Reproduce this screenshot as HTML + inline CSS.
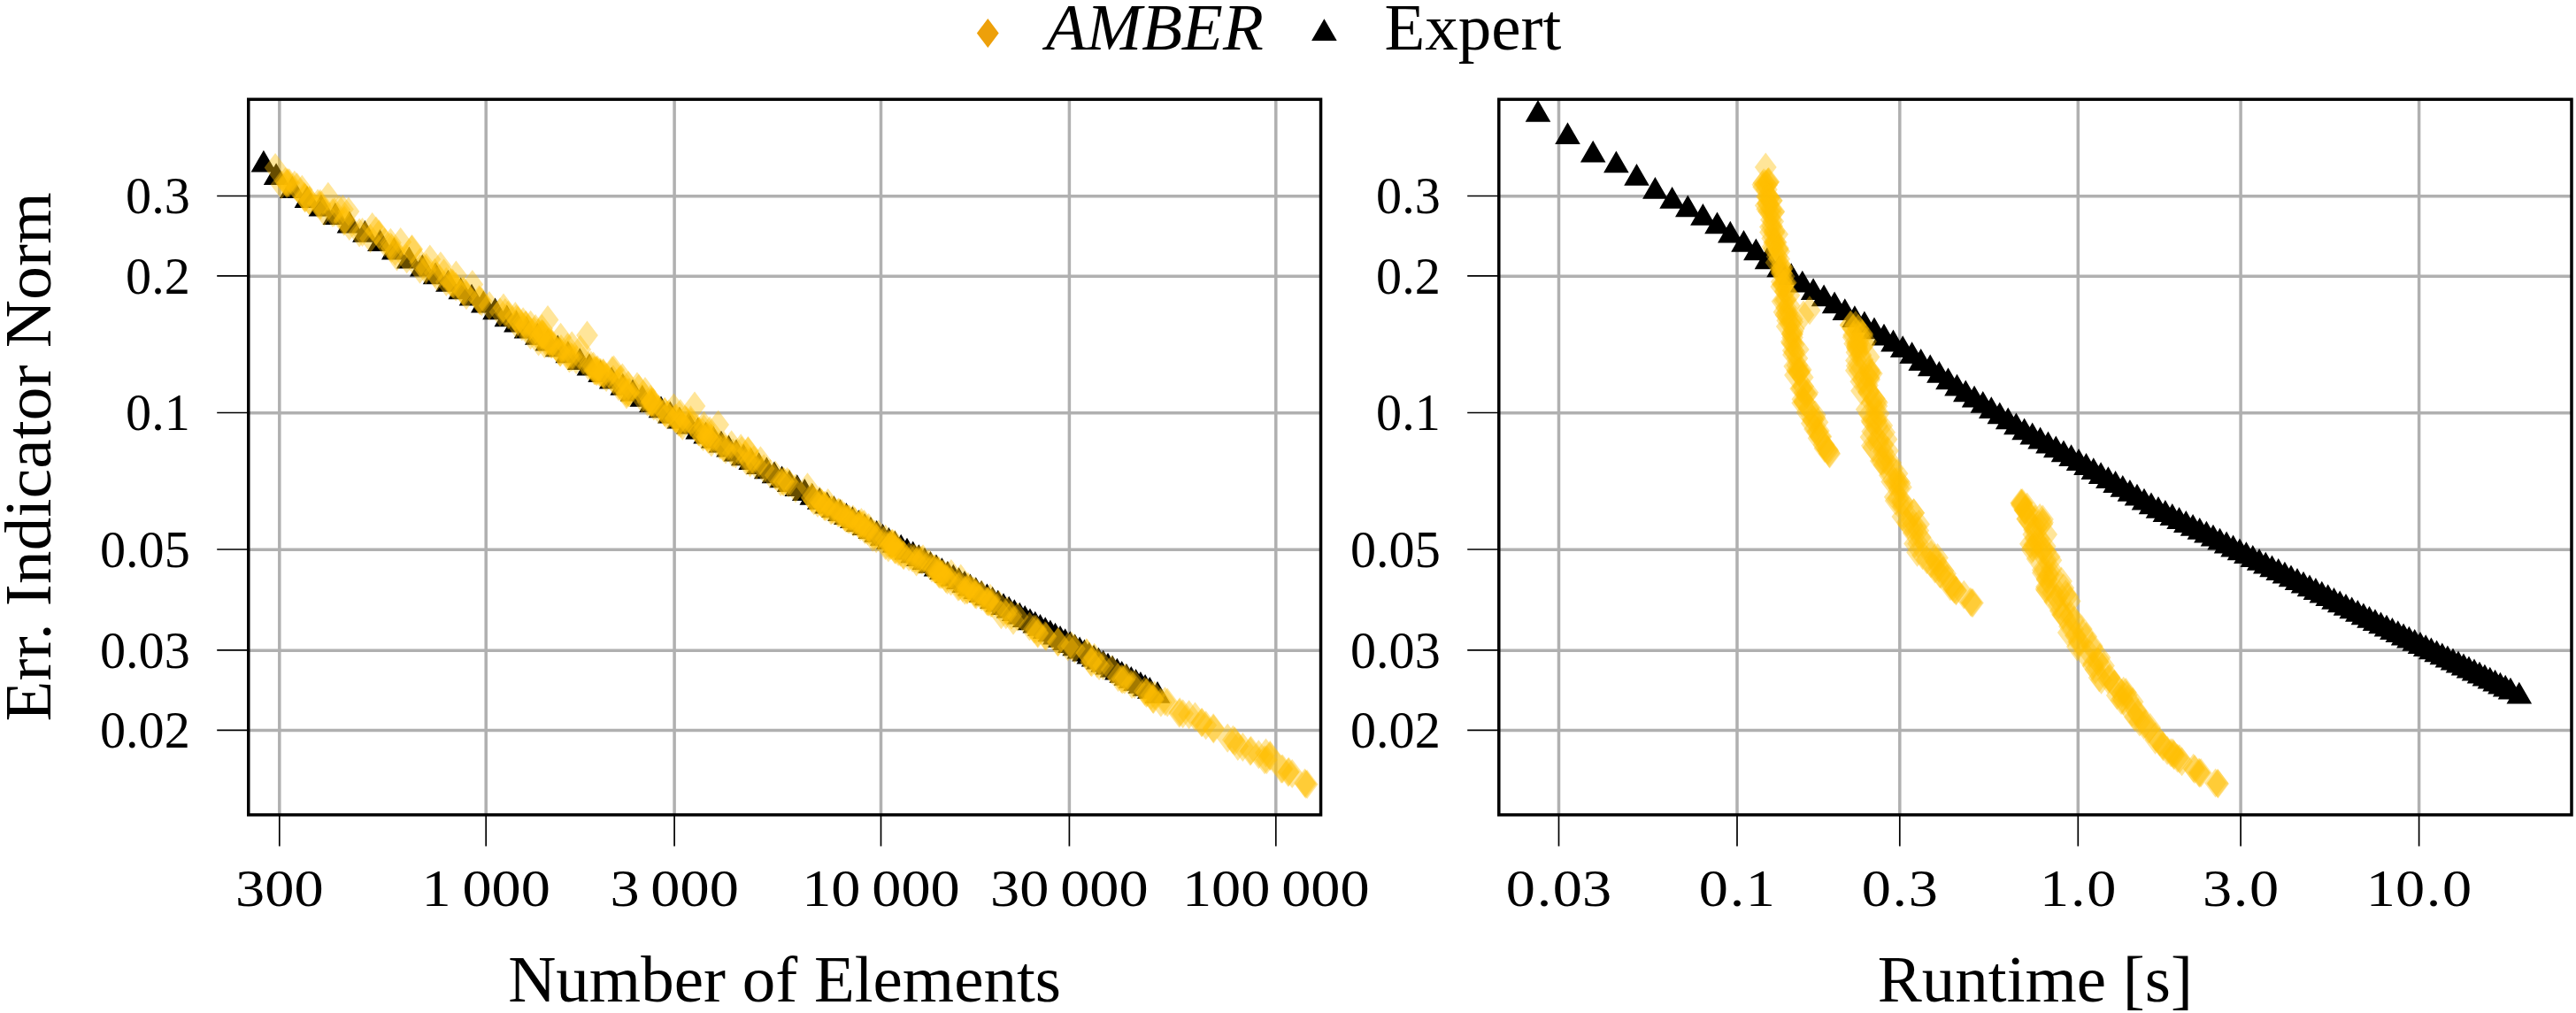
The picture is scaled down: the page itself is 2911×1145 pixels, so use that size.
<!DOCTYPE html><html><head><meta charset="utf-8"><title>AMBER vs Expert</title>
<style>html,body{margin:0;padding:0;background:#fff}svg{display:block}text{font-family:"Liberation Serif",serif;fill:#000}</style></head><body>
<svg width="2911" height="1145" viewBox="0 0 2911 1145">
<rect width="2911" height="1145" fill="#fff"/>
<path d="M315.8 112.3V921.0M549.2 112.3V921.0M762.1 112.3V921.0M995.5 112.3V921.0M1208.4 112.3V921.0M1441.8 112.3V921.0M280.75 221.8H1492.55M280.75 312.2H1492.55M280.75 466.8H1492.55M280.75 621.3H1492.55M280.75 735.2H1492.55M280.75 825.6H1492.55" stroke="#b0b0b0" stroke-width="3.5" fill="none"/>
<path d="M315.8 921.0V956.6M549.2 921.0V956.6M762.1 921.0V956.6M995.5 921.0V956.6M1208.4 921.0V956.6M1441.8 921.0V956.6M280.75 221.5H245.2M280.75 311.9H245.2M280.75 466.5H245.2M280.75 621.0H245.2M280.75 734.9H245.2M280.75 825.3H245.2" stroke="#000" stroke-width="1.7" fill="none"/>
<rect x="280.75" y="112.3" width="1211.80" height="808.70" fill="none" stroke="#000" stroke-width="3.5"/>
<path d="M1761.5 112.3V921.0M1963.0 112.3V921.0M2146.8 112.3V921.0M2348.3 112.3V921.0M2532.1 112.3V921.0M2733.6 112.3V921.0M1693.8 221.8H2906.0M1693.8 312.2H2906.0M1693.8 466.8H2906.0M1693.8 621.3H2906.0M1693.8 735.2H2906.0M1693.8 825.6H2906.0" stroke="#b0b0b0" stroke-width="3.5" fill="none"/>
<path d="M1761.5 921.0V956.6M1963.0 921.0V956.6M2146.8 921.0V956.6M2348.3 921.0V956.6M2532.1 921.0V956.6M2733.6 921.0V956.6M1693.8 221.5H1658.2M1693.8 311.9H1658.2M1693.8 466.5H1658.2M1693.8 621.0H1658.2M1693.8 734.9H1658.2M1693.8 825.3H1658.2" stroke="#000" stroke-width="1.7" fill="none"/>
<rect x="1693.8" y="112.3" width="1212.20" height="808.70" fill="none" stroke="#000" stroke-width="3.5"/>
<path d="M297.9 169.7l14.3 24.8h-28.6zM312.1 184.2l14.3 24.8h-28.6zM330.2 199.1l14.3 24.8h-28.6zM346.9 210.1l14.3 24.8h-28.6zM362.9 219.6l14.3 24.8h-28.6zM378.9 229.1l14.3 24.8h-28.6zM394.9 238.6l14.3 24.8h-28.6zM412.4 249.0l14.3 24.8h-28.6zM429.4 259.1l14.3 24.8h-28.6zM445.3 268.6l14.3 24.8h-28.6zM462.3 278.7l14.3 24.8h-28.6zM477.3 287.6l14.3 24.8h-28.6zM492.1 296.4l14.3 24.8h-28.6zM506.4 304.9l14.3 24.8h-28.6zM520.7 313.4l14.3 24.8h-28.6zM533.0 320.7l14.3 24.8h-28.6zM546.3 328.6l14.3 24.8h-28.6zM559.5 336.5l14.3 24.8h-28.6zM572.8 344.4l14.3 24.8h-28.6zM583.4 350.7l14.3 24.8h-28.6zM595.0 357.6l14.3 24.8h-28.6zM607.3 364.9l14.3 24.8h-28.6zM618.9 371.8l14.3 24.8h-28.6zM630.2 378.5l14.3 24.8h-28.6zM641.8 385.4l14.3 24.8h-28.6zM655.2 393.3l14.3 24.8h-28.6zM665.9 399.6l14.3 24.8h-28.6zM678.6 407.1l14.3 24.8h-28.6zM691.2 414.6l14.3 24.8h-28.6zM703.7 421.9l14.3 24.8h-28.6zM715.0 428.6l14.3 24.8h-28.6zM725.8 434.9l14.3 24.8h-28.6zM736.4 441.2l14.3 24.8h-28.6zM747.0 447.4l14.3 24.8h-28.6zM757.4 453.6l14.3 24.8h-28.6zM767.9 459.7l14.3 24.8h-28.6zM778.3 465.7l14.3 24.8h-28.6zM788.7 471.7l14.3 24.8h-28.6zM797.6 476.8l14.3 24.8h-28.6zM806.3 481.8l14.3 24.8h-28.6zM815.0 486.8l14.3 24.8h-28.6zM823.5 491.7l14.3 24.8h-28.6zM832.0 496.6l14.3 24.8h-28.6zM840.3 501.4l14.3 24.8h-28.6zM848.7 506.3l14.3 24.8h-28.6zM857.5 511.3l14.3 24.8h-28.6zM866.3 516.4l14.3 24.8h-28.6zM875.0 521.4l14.3 24.8h-28.6zM883.6 526.4l14.3 24.8h-28.6zM892.2 531.3l14.3 24.8h-28.6zM900.8 536.2l14.3 24.8h-28.6zM909.3 541.1l14.3 24.8h-28.6zM917.8 546.0l14.3 24.8h-28.6zM926.2 550.9l14.3 24.8h-28.6zM934.6 555.7l14.3 24.8h-28.6zM942.4 560.2l14.3 24.8h-28.6zM949.5 564.3l14.3 24.8h-28.6zM956.4 568.3l14.3 24.8h-28.6zM963.4 572.3l14.3 24.8h-28.6zM970.3 576.3l14.3 24.8h-28.6zM977.1 580.2l14.3 24.8h-28.6zM983.9 584.1l14.3 24.8h-28.6zM990.7 588.0l14.3 24.8h-28.6zM997.5 591.9l14.3 24.8h-28.6zM1004.4 595.9l14.3 24.8h-28.6zM1011.3 599.8l14.3 24.8h-28.6zM1018.2 603.8l14.3 24.8h-28.6zM1025.0 607.7l14.3 24.8h-28.6zM1031.7 611.5l14.3 24.8h-28.6zM1038.3 615.3l14.3 24.8h-28.6zM1044.9 619.1l14.3 24.8h-28.6zM1051.5 622.9l14.3 24.8h-28.6zM1058.0 626.6l14.3 24.8h-28.6zM1064.4 630.3l14.3 24.8h-28.6zM1070.9 634.0l14.3 24.8h-28.6zM1077.3 637.7l14.3 24.8h-28.6zM1083.6 641.3l14.3 24.8h-28.6zM1090.0 645.0l14.3 24.8h-28.6zM1096.4 648.6l14.3 24.8h-28.6zM1102.8 652.3l14.3 24.8h-28.6zM1109.1 655.9l14.3 24.8h-28.6zM1115.4 659.5l14.3 24.8h-28.6zM1121.6 663.1l14.3 24.8h-28.6zM1127.8 666.7l14.3 24.8h-28.6zM1134.0 670.2l14.3 24.8h-28.6zM1140.2 673.7l14.3 24.8h-28.6zM1146.3 677.2l14.3 24.8h-28.6zM1152.3 680.7l14.3 24.8h-28.6zM1158.2 684.1l14.3 24.8h-28.6zM1164.0 687.4l14.3 24.8h-28.6zM1169.8 690.7l14.3 24.8h-28.6zM1175.5 694.0l14.3 24.8h-28.6zM1181.2 697.3l14.3 24.8h-28.6zM1186.9 700.5l14.3 24.8h-28.6zM1192.5 703.8l14.3 24.8h-28.6zM1198.1 707.0l14.3 24.8h-28.6zM1203.7 710.2l14.3 24.8h-28.6zM1209.3 713.3l14.3 24.8h-28.6zM1214.7 716.5l14.3 24.8h-28.6zM1220.1 719.6l14.3 24.8h-28.6zM1225.5 722.6l14.3 24.8h-28.6zM1230.8 725.7l14.3 24.8h-28.6zM1236.1 728.8l14.3 24.8h-28.6zM1241.4 731.8l14.3 24.8h-28.6zM1246.7 734.8l14.3 24.8h-28.6zM1252.0 737.8l14.3 24.8h-28.6zM1257.2 740.8l14.3 24.8h-28.6zM1262.4 743.8l14.3 24.8h-28.6zM1267.7 746.9l14.3 24.8h-28.6zM1273.0 749.9l14.3 24.8h-28.6zM1278.3 753.0l14.3 24.8h-28.6zM1283.6 756.0l14.3 24.8h-28.6zM1288.9 759.0l14.3 24.8h-28.6zM1294.1 762.0l14.3 24.8h-28.6zM1299.3 765.0l14.3 24.8h-28.6zM1308.0 770.0l14.3 24.8h-28.6z" fill="#000"/>
<g fill="#ffbf00" fill-opacity="0.4">
<path d="M325.0 190.0l12.4 16.5-12.4 16.5-12.4-16.5z"/><path d="M323.6 189.3l12.4 16.5-12.4 16.5-12.4-16.5z"/><path d="M326.8 190.2l12.4 16.5-12.4 16.5-12.4-16.5z"/><path d="M322.5 189.1l12.4 16.5-12.4 16.5-12.4-16.5z"/><path d="M318.0 192.2l12.4 16.5-12.4 16.5-12.4-16.5z"/><path d="M324.2 191.2l12.4 16.5-12.4 16.5-12.4-16.5z"/><path d="M335.6 195.0l12.4 16.5-12.4 16.5-12.4-16.5z"/><path d="M341.3 197.8l12.4 16.5-12.4 16.5-12.4-16.5z"/><path d="M332.8 192.8l12.4 16.5-12.4 16.5-12.4-16.5z"/><path d="M343.8 205.7l12.4 16.5-12.4 16.5-12.4-16.5z"/><path d="M344.7 207.4l12.4 16.5-12.4 16.5-12.4-16.5z"/><path d="M370.8 205.8l12.4 16.5-12.4 16.5-12.4-16.5z"/><path d="M349.8 210.2l12.4 16.5-12.4 16.5-12.4-16.5z"/><path d="M349.4 210.3l12.4 16.5-12.4 16.5-12.4-16.5z"/><path d="M344.8 207.0l12.4 16.5-12.4 16.5-12.4-16.5z"/><path d="M359.1 213.4l12.4 16.5-12.4 16.5-12.4-16.5z"/><path d="M361.8 213.8l12.4 16.5-12.4 16.5-12.4-16.5z"/><path d="M362.0 215.8l12.4 16.5-12.4 16.5-12.4-16.5z"/><path d="M383.7 220.6l12.4 16.5-12.4 16.5-12.4-16.5z"/><path d="M393.9 222.4l12.4 16.5-12.4 16.5-12.4-16.5z"/><path d="M387.4 219.9l12.4 16.5-12.4 16.5-12.4-16.5z"/><path d="M366.2 222.5l12.4 16.5-12.4 16.5-12.4-16.5z"/><path d="M377.9 223.2l12.4 16.5-12.4 16.5-12.4-16.5z"/><path d="M375.9 223.9l12.4 16.5-12.4 16.5-12.4-16.5z"/><path d="M394.8 239.1l12.4 16.5-12.4 16.5-12.4-16.5z"/><path d="M389.2 232.0l12.4 16.5-12.4 16.5-12.4-16.5z"/><path d="M388.7 233.7l12.4 16.5-12.4 16.5-12.4-16.5z"/><path d="M420.7 240.0l12.4 16.5-12.4 16.5-12.4-16.5z"/><path d="M406.1 246.6l12.4 16.5-12.4 16.5-12.4-16.5z"/><path d="M425.0 244.6l12.4 16.5-12.4 16.5-12.4-16.5z"/><path d="M409.5 245.9l12.4 16.5-12.4 16.5-12.4-16.5z"/><path d="M428.3 248.2l12.4 16.5-12.4 16.5-12.4-16.5z"/><path d="M418.5 253.1l12.4 16.5-12.4 16.5-12.4-16.5z"/><path d="M441.4 257.8l12.4 16.5-12.4 16.5-12.4-16.5z"/><path d="M452.7 256.9l12.4 16.5-12.4 16.5-12.4-16.5z"/><path d="M442.6 263.9l12.4 16.5-12.4 16.5-12.4-16.5z"/><path d="M465.6 264.9l12.4 16.5-12.4 16.5-12.4-16.5z"/><path d="M441.1 262.5l12.4 16.5-12.4 16.5-12.4-16.5z"/><path d="M434.7 257.5l12.4 16.5-12.4 16.5-12.4-16.5z"/><path d="M446.6 267.5l12.4 16.5-12.4 16.5-12.4-16.5z"/><path d="M459.7 276.2l12.4 16.5-12.4 16.5-12.4-16.5z"/><path d="M465.2 265.8l12.4 16.5-12.4 16.5-12.4-16.5z"/><path d="M448.5 273.6l12.4 16.5-12.4 16.5-12.4-16.5z"/><path d="M497.9 284.2l12.4 16.5-12.4 16.5-12.4-16.5z"/><path d="M474.5 280.3l12.4 16.5-12.4 16.5-12.4-16.5z"/><path d="M474.5 287.7l12.4 16.5-12.4 16.5-12.4-16.5z"/><path d="M481.7 286.1l12.4 16.5-12.4 16.5-12.4-16.5z"/><path d="M481.2 288.5l12.4 16.5-12.4 16.5-12.4-16.5z"/><path d="M501.6 292.6l12.4 16.5-12.4 16.5-12.4-16.5z"/><path d="M491.3 291.7l12.4 16.5-12.4 16.5-12.4-16.5z"/><path d="M493.8 296.1l12.4 16.5-12.4 16.5-12.4-16.5z"/><path d="M533.8 305.0l12.4 16.5-12.4 16.5-12.4-16.5z"/><path d="M504.3 302.0l12.4 16.5-12.4 16.5-12.4-16.5z"/><path d="M509.3 303.1l12.4 16.5-12.4 16.5-12.4-16.5z"/><path d="M511.3 303.4l12.4 16.5-12.4 16.5-12.4-16.5z"/><path d="M512.0 305.0l12.4 16.5-12.4 16.5-12.4-16.5z"/><path d="M515.1 307.4l12.4 16.5-12.4 16.5-12.4-16.5z"/><path d="M524.7 313.2l12.4 16.5-12.4 16.5-12.4-16.5z"/><path d="M527.0 317.3l12.4 16.5-12.4 16.5-12.4-16.5z"/><path d="M523.0 312.5l12.4 16.5-12.4 16.5-12.4-16.5z"/><path d="M542.3 323.3l12.4 16.5-12.4 16.5-12.4-16.5z"/><path d="M541.4 322.3l12.4 16.5-12.4 16.5-12.4-16.5z"/><path d="M544.2 324.2l12.4 16.5-12.4 16.5-12.4-16.5z"/><path d="M569.0 331.5l12.4 16.5-12.4 16.5-12.4-16.5z"/><path d="M565.0 336.2l12.4 16.5-12.4 16.5-12.4-16.5z"/><path d="M552.9 328.9l12.4 16.5-12.4 16.5-12.4-16.5z"/><path d="M574.3 339.5l12.4 16.5-12.4 16.5-12.4-16.5z"/><path d="M570.8 337.0l12.4 16.5-12.4 16.5-12.4-16.5z"/><path d="M583.6 343.9l12.4 16.5-12.4 16.5-12.4-16.5z"/><path d="M591.1 347.3l12.4 16.5-12.4 16.5-12.4-16.5z"/><path d="M582.3 341.0l12.4 16.5-12.4 16.5-12.4-16.5z"/><path d="M585.2 345.8l12.4 16.5-12.4 16.5-12.4-16.5z"/><path d="M583.4 349.2l12.4 16.5-12.4 16.5-12.4-16.5z"/><path d="M596.1 355.2l12.4 16.5-12.4 16.5-12.4-16.5z"/><path d="M589.8 352.6l12.4 16.5-12.4 16.5-12.4-16.5z"/><path d="M603.1 358.5l12.4 16.5-12.4 16.5-12.4-16.5z"/><path d="M612.7 361.5l12.4 16.5-12.4 16.5-12.4-16.5z"/><path d="M612.2 360.8l12.4 16.5-12.4 16.5-12.4-16.5z"/><path d="M620.6 369.7l12.4 16.5-12.4 16.5-12.4-16.5z"/><path d="M623.5 371.5l12.4 16.5-12.4 16.5-12.4-16.5z"/><path d="M609.1 365.0l12.4 16.5-12.4 16.5-12.4-16.5z"/><path d="M631.7 379.8l12.4 16.5-12.4 16.5-12.4-16.5z"/><path d="M623.5 372.5l12.4 16.5-12.4 16.5-12.4-16.5z"/><path d="M655.7 378.5l12.4 16.5-12.4 16.5-12.4-16.5z"/><path d="M633.3 381.5l12.4 16.5-12.4 16.5-12.4-16.5z"/><path d="M643.1 384.4l12.4 16.5-12.4 16.5-12.4-16.5z"/><path d="M643.4 388.6l12.4 16.5-12.4 16.5-12.4-16.5z"/><path d="M667.9 396.4l12.4 16.5-12.4 16.5-12.4-16.5z"/><path d="M670.6 397.4l12.4 16.5-12.4 16.5-12.4-16.5z"/><path d="M675.1 401.5l12.4 16.5-12.4 16.5-12.4-16.5z"/><path d="M672.5 402.6l12.4 16.5-12.4 16.5-12.4-16.5z"/><path d="M671.5 402.3l12.4 16.5-12.4 16.5-12.4-16.5z"/><path d="M674.5 403.5l12.4 16.5-12.4 16.5-12.4-16.5z"/><path d="M677.9 404.8l12.4 16.5-12.4 16.5-12.4-16.5z"/><path d="M685.1 409.9l12.4 16.5-12.4 16.5-12.4-16.5z"/><path d="M682.3 407.4l12.4 16.5-12.4 16.5-12.4-16.5z"/><path d="M703.1 422.5l12.4 16.5-12.4 16.5-12.4-16.5z"/><path d="M699.0 420.3l12.4 16.5-12.4 16.5-12.4-16.5z"/><path d="M721.9 422.7l12.4 16.5-12.4 16.5-12.4-16.5z"/><path d="M708.0 429.5l12.4 16.5-12.4 16.5-12.4-16.5z"/><path d="M711.2 427.3l12.4 16.5-12.4 16.5-12.4-16.5z"/><path d="M708.2 427.6l12.4 16.5-12.4 16.5-12.4-16.5z"/><path d="M735.2 434.8l12.4 16.5-12.4 16.5-12.4-16.5z"/><path d="M736.1 438.3l12.4 16.5-12.4 16.5-12.4-16.5z"/><path d="M734.9 438.9l12.4 16.5-12.4 16.5-12.4-16.5z"/><path d="M731.7 437.7l12.4 16.5-12.4 16.5-12.4-16.5z"/><path d="M761.4 444.4l12.4 16.5-12.4 16.5-12.4-16.5z"/><path d="M751.1 449.6l12.4 16.5-12.4 16.5-12.4-16.5z"/><path d="M763.6 455.7l12.4 16.5-12.4 16.5-12.4-16.5z"/><path d="M763.0 457.0l12.4 16.5-12.4 16.5-12.4-16.5z"/><path d="M753.7 452.4l12.4 16.5-12.4 16.5-12.4-16.5z"/><path d="M780.5 458.2l12.4 16.5-12.4 16.5-12.4-16.5z"/><path d="M769.4 462.1l12.4 16.5-12.4 16.5-12.4-16.5z"/><path d="M766.8 460.7l12.4 16.5-12.4 16.5-12.4-16.5z"/><path d="M795.4 468.4l12.4 16.5-12.4 16.5-12.4-16.5z"/><path d="M802.1 470.4l12.4 16.5-12.4 16.5-12.4-16.5z"/><path d="M789.9 471.6l12.4 16.5-12.4 16.5-12.4-16.5z"/><path d="M803.5 478.8l12.4 16.5-12.4 16.5-12.4-16.5z"/><path d="M799.1 477.1l12.4 16.5-12.4 16.5-12.4-16.5z"/><path d="M794.6 477.1l12.4 16.5-12.4 16.5-12.4-16.5z"/><path d="M837.2 490.2l12.4 16.5-12.4 16.5-12.4-16.5z"/><path d="M826.6 486.2l12.4 16.5-12.4 16.5-12.4-16.5z"/><path d="M838.1 493.1l12.4 16.5-12.4 16.5-12.4-16.5z"/><path d="M831.3 496.5l12.4 16.5-12.4 16.5-12.4-16.5z"/><path d="M820.0 491.4l12.4 16.5-12.4 16.5-12.4-16.5z"/><path d="M828.4 495.5l12.4 16.5-12.4 16.5-12.4-16.5z"/><path d="M594.5 350.9l12.4 16.5-12.4 16.5-12.4-16.5z"/><path d="M593.8 351.0l12.4 16.5-12.4 16.5-12.4-16.5z"/><path d="M599.6 350.8l12.4 16.5-12.4 16.5-12.4-16.5z"/><path d="M612.8 361.1l12.4 16.5-12.4 16.5-12.4-16.5z"/><path d="M605.1 355.0l12.4 16.5-12.4 16.5-12.4-16.5z"/><path d="M612.4 354.9l12.4 16.5-12.4 16.5-12.4-16.5z"/><path d="M614.3 362.3l12.4 16.5-12.4 16.5-12.4-16.5z"/><path d="M608.5 360.6l12.4 16.5-12.4 16.5-12.4-16.5z"/><path d="M633.6 364.7l12.4 16.5-12.4 16.5-12.4-16.5z"/><path d="M617.6 370.7l12.4 16.5-12.4 16.5-12.4-16.5z"/><path d="M599.5 362.2l12.4 16.5-12.4 16.5-12.4-16.5z"/><path d="M608.6 369.4l12.4 16.5-12.4 16.5-12.4-16.5z"/><path d="M622.5 372.3l12.4 16.5-12.4 16.5-12.4-16.5z"/><path d="M620.0 372.1l12.4 16.5-12.4 16.5-12.4-16.5z"/><path d="M615.4 372.3l12.4 16.5-12.4 16.5-12.4-16.5z"/><path d="M646.2 374.3l12.4 16.5-12.4 16.5-12.4-16.5z"/><path d="M634.0 378.1l12.4 16.5-12.4 16.5-12.4-16.5z"/><path d="M641.4 376.2l12.4 16.5-12.4 16.5-12.4-16.5z"/><path d="M646.2 386.9l12.4 16.5-12.4 16.5-12.4-16.5z"/><path d="M632.9 381.7l12.4 16.5-12.4 16.5-12.4-16.5z"/><path d="M641.6 385.0l12.4 16.5-12.4 16.5-12.4-16.5z"/><path d="M651.1 390.1l12.4 16.5-12.4 16.5-12.4-16.5z"/><path d="M665.0 397.1l12.4 16.5-12.4 16.5-12.4-16.5z"/><path d="M658.8 391.0l12.4 16.5-12.4 16.5-12.4-16.5z"/><path d="M691.9 402.3l12.4 16.5-12.4 16.5-12.4-16.5z"/><path d="M673.8 402.6l12.4 16.5-12.4 16.5-12.4-16.5z"/><path d="M681.7 404.9l12.4 16.5-12.4 16.5-12.4-16.5z"/><path d="M681.6 405.7l12.4 16.5-12.4 16.5-12.4-16.5z"/><path d="M678.9 404.7l12.4 16.5-12.4 16.5-12.4-16.5z"/><path d="M693.6 401.4l12.4 16.5-12.4 16.5-12.4-16.5z"/><path d="M720.0 420.6l12.4 16.5-12.4 16.5-12.4-16.5z"/><path d="M703.3 410.6l12.4 16.5-12.4 16.5-12.4-16.5z"/><path d="M701.0 412.5l12.4 16.5-12.4 16.5-12.4-16.5z"/><path d="M710.0 418.9l12.4 16.5-12.4 16.5-12.4-16.5z"/><path d="M699.1 414.7l12.4 16.5-12.4 16.5-12.4-16.5z"/><path d="M692.9 412.6l12.4 16.5-12.4 16.5-12.4-16.5z"/><path d="M729.0 426.1l12.4 16.5-12.4 16.5-12.4-16.5z"/><path d="M706.3 425.2l12.4 16.5-12.4 16.5-12.4-16.5z"/><path d="M710.2 427.3l12.4 16.5-12.4 16.5-12.4-16.5z"/><path d="M736.6 438.6l12.4 16.5-12.4 16.5-12.4-16.5z"/><path d="M725.6 434.0l12.4 16.5-12.4 16.5-12.4-16.5z"/><path d="M736.3 437.0l12.4 16.5-12.4 16.5-12.4-16.5z"/><path d="M744.6 446.2l12.4 16.5-12.4 16.5-12.4-16.5z"/><path d="M738.8 442.4l12.4 16.5-12.4 16.5-12.4-16.5z"/><path d="M738.1 438.4l12.4 16.5-12.4 16.5-12.4-16.5z"/><path d="M768.8 450.9l12.4 16.5-12.4 16.5-12.4-16.5z"/><path d="M755.8 451.5l12.4 16.5-12.4 16.5-12.4-16.5z"/><path d="M751.2 448.8l12.4 16.5-12.4 16.5-12.4-16.5z"/><path d="M780.8 460.7l12.4 16.5-12.4 16.5-12.4-16.5z"/><path d="M774.1 458.0l12.4 16.5-12.4 16.5-12.4-16.5z"/><path d="M775.8 458.9l12.4 16.5-12.4 16.5-12.4-16.5z"/><path d="M768.2 459.6l12.4 16.5-12.4 16.5-12.4-16.5z"/><path d="M771.2 464.8l12.4 16.5-12.4 16.5-12.4-16.5z"/><path d="M795.5 464.5l12.4 16.5-12.4 16.5-12.4-16.5z"/><path d="M794.0 472.2l12.4 16.5-12.4 16.5-12.4-16.5z"/><path d="M789.2 471.3l12.4 16.5-12.4 16.5-12.4-16.5z"/><path d="M804.7 479.7l12.4 16.5-12.4 16.5-12.4-16.5z"/><path d="M800.3 480.0l12.4 16.5-12.4 16.5-12.4-16.5z"/><path d="M799.2 477.4l12.4 16.5-12.4 16.5-12.4-16.5z"/><path d="M803.9 483.5l12.4 16.5-12.4 16.5-12.4-16.5z"/><path d="M818.1 487.3l12.4 16.5-12.4 16.5-12.4-16.5z"/><path d="M813.6 486.8l12.4 16.5-12.4 16.5-12.4-16.5z"/><path d="M817.6 489.5l12.4 16.5-12.4 16.5-12.4-16.5z"/><path d="M845.4 493.8l12.4 16.5-12.4 16.5-12.4-16.5z"/><path d="M851.7 503.5l12.4 16.5-12.4 16.5-12.4-16.5z"/><path d="M845.3 493.0l12.4 16.5-12.4 16.5-12.4-16.5z"/><path d="M859.4 504.2l12.4 16.5-12.4 16.5-12.4-16.5z"/><path d="M847.6 506.6l12.4 16.5-12.4 16.5-12.4-16.5z"/><path d="M847.8 504.6l12.4 16.5-12.4 16.5-12.4-16.5z"/><path d="M854.8 509.3l12.4 16.5-12.4 16.5-12.4-16.5z"/><path d="M843.5 504.5l12.4 16.5-12.4 16.5-12.4-16.5z"/><path d="M863.2 513.2l12.4 16.5-12.4 16.5-12.4-16.5z"/><path d="M889.5 527.9l12.4 16.5-12.4 16.5-12.4-16.5z"/><path d="M870.4 518.7l12.4 16.5-12.4 16.5-12.4-16.5z"/><path d="M876.2 520.8l12.4 16.5-12.4 16.5-12.4-16.5z"/><path d="M885.9 527.9l12.4 16.5-12.4 16.5-12.4-16.5z"/><path d="M891.2 529.5l12.4 16.5-12.4 16.5-12.4-16.5z"/><path d="M884.8 527.6l12.4 16.5-12.4 16.5-12.4-16.5z"/><path d="M912.5 534.3l12.4 16.5-12.4 16.5-12.4-16.5z"/><path d="M882.2 528.0l12.4 16.5-12.4 16.5-12.4-16.5z"/><path d="M899.0 535.5l12.4 16.5-12.4 16.5-12.4-16.5z"/><path d="M917.6 546.4l12.4 16.5-12.4 16.5-12.4-16.5z"/><path d="M916.8 545.3l12.4 16.5-12.4 16.5-12.4-16.5z"/><path d="M925.9 549.5l12.4 16.5-12.4 16.5-12.4-16.5z"/><path d="M931.5 555.9l12.4 16.5-12.4 16.5-12.4-16.5z"/><path d="M927.5 551.5l12.4 16.5-12.4 16.5-12.4-16.5z"/><path d="M919.8 549.5l12.4 16.5-12.4 16.5-12.4-16.5z"/><path d="M949.0 563.2l12.4 16.5-12.4 16.5-12.4-16.5z"/><path d="M946.9 563.3l12.4 16.5-12.4 16.5-12.4-16.5z"/><path d="M951.1 564.0l12.4 16.5-12.4 16.5-12.4-16.5z"/><path d="M964.3 573.7l12.4 16.5-12.4 16.5-12.4-16.5z"/><path d="M954.3 567.6l12.4 16.5-12.4 16.5-12.4-16.5z"/><path d="M971.6 576.6l12.4 16.5-12.4 16.5-12.4-16.5z"/><path d="M971.6 576.1l12.4 16.5-12.4 16.5-12.4-16.5z"/><path d="M972.1 578.5l12.4 16.5-12.4 16.5-12.4-16.5z"/><path d="M974.2 577.4l12.4 16.5-12.4 16.5-12.4-16.5z"/><path d="M985.4 586.0l12.4 16.5-12.4 16.5-12.4-16.5z"/><path d="M986.2 590.8l12.4 16.5-12.4 16.5-12.4-16.5z"/><path d="M980.3 583.3l12.4 16.5-12.4 16.5-12.4-16.5z"/><path d="M1008.1 597.9l12.4 16.5-12.4 16.5-12.4-16.5z"/><path d="M1008.7 598.1l12.4 16.5-12.4 16.5-12.4-16.5z"/><path d="M1011.2 598.7l12.4 16.5-12.4 16.5-12.4-16.5z"/><path d="M1017.4 607.7l12.4 16.5-12.4 16.5-12.4-16.5z"/><path d="M1020.6 610.5l12.4 16.5-12.4 16.5-12.4-16.5z"/><path d="M1021.4 611.2l12.4 16.5-12.4 16.5-12.4-16.5z"/><path d="M1049.6 620.6l12.4 16.5-12.4 16.5-12.4-16.5z"/><path d="M1039.6 616.2l12.4 16.5-12.4 16.5-12.4-16.5z"/><path d="M1033.9 614.5l12.4 16.5-12.4 16.5-12.4-16.5z"/><path d="M1031.0 613.9l12.4 16.5-12.4 16.5-12.4-16.5z"/><path d="M1053.0 625.5l12.4 16.5-12.4 16.5-12.4-16.5z"/><path d="M1035.6 618.5l12.4 16.5-12.4 16.5-12.4-16.5z"/><path d="M1056.4 626.4l12.4 16.5-12.4 16.5-12.4-16.5z"/><path d="M1064.6 632.4l12.4 16.5-12.4 16.5-12.4-16.5z"/><path d="M1061.0 628.8l12.4 16.5-12.4 16.5-12.4-16.5z"/><path d="M1074.9 632.0l12.4 16.5-12.4 16.5-12.4-16.5z"/><path d="M1066.0 631.9l12.4 16.5-12.4 16.5-12.4-16.5z"/><path d="M1085.7 637.5l12.4 16.5-12.4 16.5-12.4-16.5z"/><path d="M1084.0 646.2l12.4 16.5-12.4 16.5-12.4-16.5z"/><path d="M1094.1 646.8l12.4 16.5-12.4 16.5-12.4-16.5z"/><path d="M1093.4 649.6l12.4 16.5-12.4 16.5-12.4-16.5z"/><path d="M1092.8 650.4l12.4 16.5-12.4 16.5-12.4-16.5z"/><path d="M1100.5 651.6l12.4 16.5-12.4 16.5-12.4-16.5z"/><path d="M1103.3 655.8l12.4 16.5-12.4 16.5-12.4-16.5z"/><path d="M1121.0 665.0l12.4 16.5-12.4 16.5-12.4-16.5z"/><path d="M1117.3 663.7l12.4 16.5-12.4 16.5-12.4-16.5z"/><path d="M1119.7 665.0l12.4 16.5-12.4 16.5-12.4-16.5z"/><path d="M932.0 554.5l12.4 16.5-12.4 16.5-12.4-16.5z"/><path d="M935.6 551.9l12.4 16.5-12.4 16.5-12.4-16.5z"/><path d="M928.6 552.4l12.4 16.5-12.4 16.5-12.4-16.5z"/><path d="M939.1 560.4l12.4 16.5-12.4 16.5-12.4-16.5z"/><path d="M924.0 551.9l12.4 16.5-12.4 16.5-12.4-16.5z"/><path d="M933.2 556.6l12.4 16.5-12.4 16.5-12.4-16.5z"/><path d="M942.5 560.6l12.4 16.5-12.4 16.5-12.4-16.5z"/><path d="M958.9 570.3l12.4 16.5-12.4 16.5-12.4-16.5z"/><path d="M940.0 559.6l12.4 16.5-12.4 16.5-12.4-16.5z"/><path d="M947.7 562.5l12.4 16.5-12.4 16.5-12.4-16.5z"/><path d="M963.9 570.6l12.4 16.5-12.4 16.5-12.4-16.5z"/><path d="M957.3 569.7l12.4 16.5-12.4 16.5-12.4-16.5z"/><path d="M955.7 568.9l12.4 16.5-12.4 16.5-12.4-16.5z"/><path d="M966.0 572.9l12.4 16.5-12.4 16.5-12.4-16.5z"/><path d="M959.8 570.4l12.4 16.5-12.4 16.5-12.4-16.5z"/><path d="M973.4 574.1l12.4 16.5-12.4 16.5-12.4-16.5z"/><path d="M976.6 576.1l12.4 16.5-12.4 16.5-12.4-16.5z"/><path d="M981.6 580.1l12.4 16.5-12.4 16.5-12.4-16.5z"/><path d="M977.6 582.6l12.4 16.5-12.4 16.5-12.4-16.5z"/><path d="M992.8 587.6l12.4 16.5-12.4 16.5-12.4-16.5z"/><path d="M988.9 587.6l12.4 16.5-12.4 16.5-12.4-16.5z"/><path d="M1000.6 592.8l12.4 16.5-12.4 16.5-12.4-16.5z"/><path d="M1007.0 598.3l12.4 16.5-12.4 16.5-12.4-16.5z"/><path d="M990.2 592.2l12.4 16.5-12.4 16.5-12.4-16.5z"/><path d="M1006.6 600.1l12.4 16.5-12.4 16.5-12.4-16.5z"/><path d="M1009.2 601.0l12.4 16.5-12.4 16.5-12.4-16.5z"/><path d="M1004.5 599.2l12.4 16.5-12.4 16.5-12.4-16.5z"/><path d="M1003.9 602.6l12.4 16.5-12.4 16.5-12.4-16.5z"/><path d="M1000.5 600.0l12.4 16.5-12.4 16.5-12.4-16.5z"/><path d="M1015.1 607.0l12.4 16.5-12.4 16.5-12.4-16.5z"/><path d="M1011.1 604.6l12.4 16.5-12.4 16.5-12.4-16.5z"/><path d="M1012.0 605.0l12.4 16.5-12.4 16.5-12.4-16.5z"/><path d="M1027.2 612.8l12.4 16.5-12.4 16.5-12.4-16.5z"/><path d="M1037.4 615.9l12.4 16.5-12.4 16.5-12.4-16.5z"/><path d="M1043.0 615.3l12.4 16.5-12.4 16.5-12.4-16.5z"/><path d="M1041.9 616.8l12.4 16.5-12.4 16.5-12.4-16.5z"/><path d="M1061.4 632.4l12.4 16.5-12.4 16.5-12.4-16.5z"/><path d="M1059.4 627.8l12.4 16.5-12.4 16.5-12.4-16.5z"/><path d="M1056.2 626.7l12.4 16.5-12.4 16.5-12.4-16.5z"/><path d="M1060.9 631.0l12.4 16.5-12.4 16.5-12.4-16.5z"/><path d="M1070.5 634.1l12.4 16.5-12.4 16.5-12.4-16.5z"/><path d="M1063.1 633.0l12.4 16.5-12.4 16.5-12.4-16.5z"/><path d="M1070.5 638.9l12.4 16.5-12.4 16.5-12.4-16.5z"/><path d="M1068.8 637.4l12.4 16.5-12.4 16.5-12.4-16.5z"/><path d="M1074.6 640.4l12.4 16.5-12.4 16.5-12.4-16.5z"/><path d="M1090.3 650.7l12.4 16.5-12.4 16.5-12.4-16.5z"/><path d="M1087.8 648.0l12.4 16.5-12.4 16.5-12.4-16.5z"/><path d="M1082.7 646.7l12.4 16.5-12.4 16.5-12.4-16.5z"/><path d="M1096.9 649.2l12.4 16.5-12.4 16.5-12.4-16.5z"/><path d="M1102.7 652.9l12.4 16.5-12.4 16.5-12.4-16.5z"/><path d="M1102.0 655.2l12.4 16.5-12.4 16.5-12.4-16.5z"/><path d="M1109.2 657.8l12.4 16.5-12.4 16.5-12.4-16.5z"/><path d="M1118.9 659.8l12.4 16.5-12.4 16.5-12.4-16.5z"/><path d="M1109.1 655.4l12.4 16.5-12.4 16.5-12.4-16.5z"/><path d="M1115.2 662.9l12.4 16.5-12.4 16.5-12.4-16.5z"/><path d="M1128.9 667.3l12.4 16.5-12.4 16.5-12.4-16.5z"/><path d="M1116.5 663.4l12.4 16.5-12.4 16.5-12.4-16.5z"/><path d="M1138.0 674.0l12.4 16.5-12.4 16.5-12.4-16.5z"/><path d="M1150.0 680.8l12.4 16.5-12.4 16.5-12.4-16.5z"/><path d="M1143.0 678.7l12.4 16.5-12.4 16.5-12.4-16.5z"/><path d="M1145.0 684.8l12.4 16.5-12.4 16.5-12.4-16.5z"/><path d="M1131.4 678.3l12.4 16.5-12.4 16.5-12.4-16.5z"/><path d="M1136.8 678.2l12.4 16.5-12.4 16.5-12.4-16.5z"/><path d="M1168.5 694.5l12.4 16.5-12.4 16.5-12.4-16.5z"/><path d="M1163.5 691.5l12.4 16.5-12.4 16.5-12.4-16.5z"/><path d="M1170.8 694.7l12.4 16.5-12.4 16.5-12.4-16.5z"/><path d="M1182.1 703.1l12.4 16.5-12.4 16.5-12.4-16.5z"/><path d="M1172.8 699.7l12.4 16.5-12.4 16.5-12.4-16.5z"/><path d="M1172.6 698.5l12.4 16.5-12.4 16.5-12.4-16.5z"/><path d="M1181.0 701.9l12.4 16.5-12.4 16.5-12.4-16.5z"/><path d="M1195.3 709.2l12.4 16.5-12.4 16.5-12.4-16.5z"/><path d="M1195.9 709.1l12.4 16.5-12.4 16.5-12.4-16.5z"/><path d="M1214.4 716.8l12.4 16.5-12.4 16.5-12.4-16.5z"/><path d="M1210.9 713.8l12.4 16.5-12.4 16.5-12.4-16.5z"/><path d="M1206.8 714.5l12.4 16.5-12.4 16.5-12.4-16.5z"/><path d="M1228.3 722.0l12.4 16.5-12.4 16.5-12.4-16.5z"/><path d="M1236.6 726.7l12.4 16.5-12.4 16.5-12.4-16.5z"/><path d="M1227.7 721.3l12.4 16.5-12.4 16.5-12.4-16.5z"/><path d="M1239.7 733.4l12.4 16.5-12.4 16.5-12.4-16.5z"/><path d="M1232.6 731.4l12.4 16.5-12.4 16.5-12.4-16.5z"/><path d="M1233.7 732.3l12.4 16.5-12.4 16.5-12.4-16.5z"/><path d="M1242.1 736.0l12.4 16.5-12.4 16.5-12.4-16.5z"/><path d="M1256.1 740.2l12.4 16.5-12.4 16.5-12.4-16.5z"/><path d="M1246.7 735.9l12.4 16.5-12.4 16.5-12.4-16.5z"/><path d="M1267.3 750.7l12.4 16.5-12.4 16.5-12.4-16.5z"/><path d="M1268.5 751.4l12.4 16.5-12.4 16.5-12.4-16.5z"/><path d="M1263.6 749.0l12.4 16.5-12.4 16.5-12.4-16.5z"/><path d="M1282.2 756.9l12.4 16.5-12.4 16.5-12.4-16.5z"/><path d="M1271.8 749.5l12.4 16.5-12.4 16.5-12.4-16.5z"/><path d="M1270.9 751.8l12.4 16.5-12.4 16.5-12.4-16.5z"/><path d="M1293.5 764.8l12.4 16.5-12.4 16.5-12.4-16.5z"/><path d="M1296.1 766.1l12.4 16.5-12.4 16.5-12.4-16.5z"/><path d="M1279.1 757.1l12.4 16.5-12.4 16.5-12.4-16.5z"/><path d="M1300.9 769.3l12.4 16.5-12.4 16.5-12.4-16.5z"/><path d="M1295.4 767.0l12.4 16.5-12.4 16.5-12.4-16.5z"/><path d="M1304.6 769.5l12.4 16.5-12.4 16.5-12.4-16.5z"/><path d="M1302.9 773.6l12.4 16.5-12.4 16.5-12.4-16.5z"/><path d="M1311.9 777.5l12.4 16.5-12.4 16.5-12.4-16.5z"/><path d="M1303.5 773.9l12.4 16.5-12.4 16.5-12.4-16.5z"/><path d="M1319.2 777.6l12.4 16.5-12.4 16.5-12.4-16.5z"/><path d="M1316.5 776.3l12.4 16.5-12.4 16.5-12.4-16.5z"/><path d="M1332.7 789.7l12.4 16.5-12.4 16.5-12.4-16.5z"/><path d="M1333.2 788.3l12.4 16.5-12.4 16.5-12.4-16.5z"/><path d="M1336.7 790.3l12.4 16.5-12.4 16.5-12.4-16.5z"/><path d="M1350.5 793.6l12.4 16.5-12.4 16.5-12.4-16.5z"/><path d="M1343.6 791.3l12.4 16.5-12.4 16.5-12.4-16.5z"/><path d="M1358.3 800.1l12.4 16.5-12.4 16.5-12.4-16.5z"/><path d="M1357.8 800.3l12.4 16.5-12.4 16.5-12.4-16.5z"/><path d="M1362.7 803.3l12.4 16.5-12.4 16.5-12.4-16.5z"/><path d="M1371.4 807.5l12.4 16.5-12.4 16.5-12.4-16.5z"/><path d="M1371.1 806.2l12.4 16.5-12.4 16.5-12.4-16.5z"/><path d="M1395.3 821.3l12.4 16.5-12.4 16.5-12.4-16.5z"/><path d="M1393.4 819.7l12.4 16.5-12.4 16.5-12.4-16.5z"/><path d="M1387.2 817.7l12.4 16.5-12.4 16.5-12.4-16.5z"/><path d="M1404.4 828.1l12.4 16.5-12.4 16.5-12.4-16.5z"/><path d="M1398.8 826.9l12.4 16.5-12.4 16.5-12.4-16.5z"/><path d="M1413.6 831.7l12.4 16.5-12.4 16.5-12.4-16.5z"/><path d="M1412.9 832.7l12.4 16.5-12.4 16.5-12.4-16.5z"/><path d="M1422.3 836.3l12.4 16.5-12.4 16.5-12.4-16.5z"/><path d="M1431.3 842.3l12.4 16.5-12.4 16.5-12.4-16.5z"/><path d="M1429.1 842.3l12.4 16.5-12.4 16.5-12.4-16.5z"/><path d="M1435.3 838.3l12.4 16.5-12.4 16.5-12.4-16.5z"/><path d="M1430.5 834.4l12.4 16.5-12.4 16.5-12.4-16.5z"/><path d="M1435.2 837.0l12.4 16.5-12.4 16.5-12.4-16.5z"/><path d="M1449.3 852.5l12.4 16.5-12.4 16.5-12.4-16.5z"/><path d="M1448.0 852.7l12.4 16.5-12.4 16.5-12.4-16.5z"/><path d="M1456.4 855.7l12.4 16.5-12.4 16.5-12.4-16.5z"/><path d="M1455.7 856.5l12.4 16.5-12.4 16.5-12.4-16.5z"/><path d="M1460.2 858.0l12.4 16.5-12.4 16.5-12.4-16.5z"/><path d="M1474.5 868.4l12.4 16.5-12.4 16.5-12.4-16.5z"/><path d="M1477.1 870.0l12.4 16.5-12.4 16.5-12.4-16.5z"/><path d="M311.1 173.0l12.4 16.5-12.4 16.5-12.4-16.5z"/><path d="M619.0 344.9l12.4 16.5-12.4 16.5-12.4-16.5z"/><path d="M663.5 362.5l12.4 16.5-12.4 16.5-12.4-16.5z"/><path d="M785.0 442.5l12.4 16.5-12.4 16.5-12.4-16.5z"/><path d="M811.6 463.5l12.4 16.5-12.4 16.5-12.4-16.5z"/><path d="M485.8 276.5l12.4 16.5-12.4 16.5-12.4-16.5z"/><path d="M515.4 294.5l12.4 16.5-12.4 16.5-12.4-16.5z"/><path d="M1475.5 869.7l12.4 16.5-12.4 16.5-12.4-16.5z"/>
</g>
<path d="M1738.0 113.0l14.3 24.8h-28.6zM1771.5 138.3l14.3 24.8h-28.6zM1800.2 158.8l14.3 24.8h-28.6zM1826.4 170.5l14.3 24.8h-28.6zM1849.5 185.0l14.3 24.8h-28.6zM1870.4 199.9l14.3 24.8h-28.6zM1889.6 210.9l14.3 24.8h-28.6zM1907.3 220.4l14.3 24.8h-28.6zM1924.4 229.9l14.3 24.8h-28.6zM1940.5 239.4l14.3 24.8h-28.6zM1955.3 249.8l14.3 24.8h-28.6zM1970.5 259.9l14.3 24.8h-28.6zM1984.4 269.4l14.3 24.8h-28.6zM1997.0 279.5l14.3 24.8h-28.6zM2010.6 288.4l14.3 24.8h-28.6zM2024.2 297.2l14.3 24.8h-28.6zM2036.8 305.7l14.3 24.8h-28.6zM2049.1 314.2l14.3 24.8h-28.6zM2061.1 321.5l14.3 24.8h-28.6zM2073.1 329.4l14.3 24.8h-28.6zM2084.8 337.3l14.3 24.8h-28.6zM2095.9 345.2l14.3 24.8h-28.6zM2106.9 351.5l14.3 24.8h-28.6zM2118.0 358.4l14.3 24.8h-28.6zM2129.0 365.7l14.3 24.8h-28.6zM2139.5 372.6l14.3 24.8h-28.6zM2150.2 379.3l14.3 24.8h-28.6zM2160.6 386.2l14.3 24.8h-28.6zM2170.7 394.1l14.3 24.8h-28.6zM2181.2 400.4l14.3 24.8h-28.6zM2191.4 407.9l14.3 24.8h-28.6zM2201.5 415.4l14.3 24.8h-28.6zM2211.5 422.7l14.3 24.8h-28.6zM2221.3 429.4l14.3 24.8h-28.6zM2231.1 435.7l14.3 24.8h-28.6zM2240.8 442.0l14.3 24.8h-28.6zM2250.3 448.2l14.3 24.8h-28.6zM2259.8 454.4l14.3 24.8h-28.6zM2269.2 460.5l14.3 24.8h-28.6zM2278.4 466.5l14.3 24.8h-28.6zM2287.6 472.5l14.3 24.8h-28.6zM2296.7 477.6l14.3 24.8h-28.6zM2305.6 482.6l14.3 24.8h-28.6zM2314.5 487.6l14.3 24.8h-28.6zM2323.3 492.5l14.3 24.8h-28.6zM2332.0 497.4l14.3 24.8h-28.6zM2340.6 502.2l14.3 24.8h-28.6zM2349.1 507.1l14.3 24.8h-28.6zM2357.5 512.1l14.3 24.8h-28.6zM2365.8 517.2l14.3 24.8h-28.6zM2374.1 522.2l14.3 24.8h-28.6zM2382.4 527.2l14.3 24.8h-28.6zM2390.6 532.1l14.3 24.8h-28.6zM2398.8 537.0l14.3 24.8h-28.6zM2406.9 541.9l14.3 24.8h-28.6zM2415.0 546.8l14.3 24.8h-28.6zM2423.0 551.7l14.3 24.8h-28.6zM2431.0 556.5l14.3 24.8h-28.6zM2439.0 561.0l14.3 24.8h-28.6zM2446.9 565.1l14.3 24.8h-28.6zM2454.8 569.1l14.3 24.8h-28.6zM2462.6 573.1l14.3 24.8h-28.6zM2470.3 577.1l14.3 24.8h-28.6zM2478.1 581.0l14.3 24.8h-28.6zM2485.8 584.9l14.3 24.8h-28.6zM2493.4 588.8l14.3 24.8h-28.6zM2501.0 592.7l14.3 24.8h-28.6zM2508.6 596.7l14.3 24.8h-28.6zM2516.1 600.6l14.3 24.8h-28.6zM2523.6 604.6l14.3 24.8h-28.6zM2531.0 608.5l14.3 24.8h-28.6zM2538.4 612.3l14.3 24.8h-28.6zM2545.8 616.1l14.3 24.8h-28.6zM2553.1 619.9l14.3 24.8h-28.6zM2560.3 623.7l14.3 24.8h-28.6zM2567.5 627.4l14.3 24.8h-28.6zM2574.7 631.1l14.3 24.8h-28.6zM2581.9 634.8l14.3 24.8h-28.6zM2589.0 638.5l14.3 24.8h-28.6zM2596.0 642.1l14.3 24.8h-28.6zM2603.0 645.8l14.3 24.8h-28.6zM2610.0 649.4l14.3 24.8h-28.6zM2616.9 653.1l14.3 24.8h-28.6zM2623.8 656.7l14.3 24.8h-28.6zM2630.7 660.3l14.3 24.8h-28.6zM2637.5 663.9l14.3 24.8h-28.6zM2644.2 667.5l14.3 24.8h-28.6zM2651.0 671.0l14.3 24.8h-28.6zM2657.7 674.5l14.3 24.8h-28.6zM2664.3 678.0l14.3 24.8h-28.6zM2670.9 681.5l14.3 24.8h-28.6zM2677.5 684.9l14.3 24.8h-28.6zM2684.0 688.2l14.3 24.8h-28.6zM2690.5 691.5l14.3 24.8h-28.6zM2697.0 694.8l14.3 24.8h-28.6zM2703.4 698.1l14.3 24.8h-28.6zM2709.8 701.3l14.3 24.8h-28.6zM2716.1 704.6l14.3 24.8h-28.6zM2722.4 707.8l14.3 24.8h-28.6zM2728.7 711.0l14.3 24.8h-28.6zM2735.0 714.1l14.3 24.8h-28.6zM2741.2 717.3l14.3 24.8h-28.6zM2747.4 720.4l14.3 24.8h-28.6zM2753.6 723.4l14.3 24.8h-28.6zM2759.8 726.5l14.3 24.8h-28.6zM2765.9 729.6l14.3 24.8h-28.6zM2772.0 732.6l14.3 24.8h-28.6zM2778.0 735.6l14.3 24.8h-28.6zM2784.0 738.6l14.3 24.8h-28.6zM2790.0 741.6l14.3 24.8h-28.6zM2796.0 744.6l14.3 24.8h-28.6zM2802.0 747.7l14.3 24.8h-28.6zM2807.9 750.7l14.3 24.8h-28.6zM2813.8 753.8l14.3 24.8h-28.6zM2819.6 756.8l14.3 24.8h-28.6zM2825.4 759.8l14.3 24.8h-28.6zM2831.2 762.8l14.3 24.8h-28.6zM2837.0 765.8l14.3 24.8h-28.6zM2846.8 770.8l14.3 24.8h-28.6z" fill="#000"/>
<g fill="#ffbf00" fill-opacity="0.4">
<path d="M1997.6 190.0l12.4 16.5-12.4 16.5-12.4-16.5z"/><path d="M1998.2 189.3l12.4 16.5-12.4 16.5-12.4-16.5z"/><path d="M1993.1 190.2l12.4 16.5-12.4 16.5-12.4-16.5z"/><path d="M1998.8 189.1l12.4 16.5-12.4 16.5-12.4-16.5z"/><path d="M1991.9 192.2l12.4 16.5-12.4 16.5-12.4-16.5z"/><path d="M1995.1 191.2l12.4 16.5-12.4 16.5-12.4-16.5z"/><path d="M1992.7 195.0l12.4 16.5-12.4 16.5-12.4-16.5z"/><path d="M1996.3 197.8l12.4 16.5-12.4 16.5-12.4-16.5z"/><path d="M1996.6 192.8l12.4 16.5-12.4 16.5-12.4-16.5z"/><path d="M1996.5 205.7l12.4 16.5-12.4 16.5-12.4-16.5z"/><path d="M1998.9 207.4l12.4 16.5-12.4 16.5-12.4-16.5z"/><path d="M1997.4 205.8l12.4 16.5-12.4 16.5-12.4-16.5z"/><path d="M2001.9 210.2l12.4 16.5-12.4 16.5-12.4-16.5z"/><path d="M2002.3 210.3l12.4 16.5-12.4 16.5-12.4-16.5z"/><path d="M1999.1 207.0l12.4 16.5-12.4 16.5-12.4-16.5z"/><path d="M1997.5 213.4l12.4 16.5-12.4 16.5-12.4-16.5z"/><path d="M1997.9 213.8l12.4 16.5-12.4 16.5-12.4-16.5z"/><path d="M1995.3 215.8l12.4 16.5-12.4 16.5-12.4-16.5z"/><path d="M2001.5 220.6l12.4 16.5-12.4 16.5-12.4-16.5z"/><path d="M2004.8 222.4l12.4 16.5-12.4 16.5-12.4-16.5z"/><path d="M1996.7 219.9l12.4 16.5-12.4 16.5-12.4-16.5z"/><path d="M1998.7 222.5l12.4 16.5-12.4 16.5-12.4-16.5z"/><path d="M2004.4 223.2l12.4 16.5-12.4 16.5-12.4-16.5z"/><path d="M2001.5 223.9l12.4 16.5-12.4 16.5-12.4-16.5z"/><path d="M2002.6 239.1l12.4 16.5-12.4 16.5-12.4-16.5z"/><path d="M2001.5 232.0l12.4 16.5-12.4 16.5-12.4-16.5z"/><path d="M2003.7 233.7l12.4 16.5-12.4 16.5-12.4-16.5z"/><path d="M2000.4 240.0l12.4 16.5-12.4 16.5-12.4-16.5z"/><path d="M2005.0 246.6l12.4 16.5-12.4 16.5-12.4-16.5z"/><path d="M2005.2 244.6l12.4 16.5-12.4 16.5-12.4-16.5z"/><path d="M2000.5 245.9l12.4 16.5-12.4 16.5-12.4-16.5z"/><path d="M2008.6 248.2l12.4 16.5-12.4 16.5-12.4-16.5z"/><path d="M2002.7 253.1l12.4 16.5-12.4 16.5-12.4-16.5z"/><path d="M2004.7 257.8l12.4 16.5-12.4 16.5-12.4-16.5z"/><path d="M2006.0 256.9l12.4 16.5-12.4 16.5-12.4-16.5z"/><path d="M2009.4 263.9l12.4 16.5-12.4 16.5-12.4-16.5z"/><path d="M2004.3 264.9l12.4 16.5-12.4 16.5-12.4-16.5z"/><path d="M2003.1 262.5l12.4 16.5-12.4 16.5-12.4-16.5z"/><path d="M2007.2 257.5l12.4 16.5-12.4 16.5-12.4-16.5z"/><path d="M2010.7 267.5l12.4 16.5-12.4 16.5-12.4-16.5z"/><path d="M2010.6 276.2l12.4 16.5-12.4 16.5-12.4-16.5z"/><path d="M2009.2 265.8l12.4 16.5-12.4 16.5-12.4-16.5z"/><path d="M2008.1 273.6l12.4 16.5-12.4 16.5-12.4-16.5z"/><path d="M2012.7 284.2l12.4 16.5-12.4 16.5-12.4-16.5z"/><path d="M2007.1 280.3l12.4 16.5-12.4 16.5-12.4-16.5z"/><path d="M2013.6 287.7l12.4 16.5-12.4 16.5-12.4-16.5z"/><path d="M2014.4 286.1l12.4 16.5-12.4 16.5-12.4-16.5z"/><path d="M2012.0 288.5l12.4 16.5-12.4 16.5-12.4-16.5z"/><path d="M2013.9 292.6l12.4 16.5-12.4 16.5-12.4-16.5z"/><path d="M2012.9 291.7l12.4 16.5-12.4 16.5-12.4-16.5z"/><path d="M2016.1 296.1l12.4 16.5-12.4 16.5-12.4-16.5z"/><path d="M2014.5 305.0l12.4 16.5-12.4 16.5-12.4-16.5z"/><path d="M2013.3 302.0l12.4 16.5-12.4 16.5-12.4-16.5z"/><path d="M2018.3 303.1l12.4 16.5-12.4 16.5-12.4-16.5z"/><path d="M2017.2 303.4l12.4 16.5-12.4 16.5-12.4-16.5z"/><path d="M2015.8 305.0l12.4 16.5-12.4 16.5-12.4-16.5z"/><path d="M2012.8 307.4l12.4 16.5-12.4 16.5-12.4-16.5z"/><path d="M2017.8 313.2l12.4 16.5-12.4 16.5-12.4-16.5z"/><path d="M2021.9 317.3l12.4 16.5-12.4 16.5-12.4-16.5z"/><path d="M2017.2 312.5l12.4 16.5-12.4 16.5-12.4-16.5z"/><path d="M2016.1 323.3l12.4 16.5-12.4 16.5-12.4-16.5z"/><path d="M2018.2 322.3l12.4 16.5-12.4 16.5-12.4-16.5z"/><path d="M2014.0 324.2l12.4 16.5-12.4 16.5-12.4-16.5z"/><path d="M2018.5 331.5l12.4 16.5-12.4 16.5-12.4-16.5z"/><path d="M2016.0 336.2l12.4 16.5-12.4 16.5-12.4-16.5z"/><path d="M2022.0 328.9l12.4 16.5-12.4 16.5-12.4-16.5z"/><path d="M2017.9 339.5l12.4 16.5-12.4 16.5-12.4-16.5z"/><path d="M2019.4 337.0l12.4 16.5-12.4 16.5-12.4-16.5z"/><path d="M2025.3 343.9l12.4 16.5-12.4 16.5-12.4-16.5z"/><path d="M2025.7 347.3l12.4 16.5-12.4 16.5-12.4-16.5z"/><path d="M2020.0 341.0l12.4 16.5-12.4 16.5-12.4-16.5z"/><path d="M2019.7 345.8l12.4 16.5-12.4 16.5-12.4-16.5z"/><path d="M2023.4 349.2l12.4 16.5-12.4 16.5-12.4-16.5z"/><path d="M2027.2 355.2l12.4 16.5-12.4 16.5-12.4-16.5z"/><path d="M2019.3 352.6l12.4 16.5-12.4 16.5-12.4-16.5z"/><path d="M2026.1 358.5l12.4 16.5-12.4 16.5-12.4-16.5z"/><path d="M2025.4 361.5l12.4 16.5-12.4 16.5-12.4-16.5z"/><path d="M2025.1 360.8l12.4 16.5-12.4 16.5-12.4-16.5z"/><path d="M2024.3 369.7l12.4 16.5-12.4 16.5-12.4-16.5z"/><path d="M2025.0 371.5l12.4 16.5-12.4 16.5-12.4-16.5z"/><path d="M2025.5 365.0l12.4 16.5-12.4 16.5-12.4-16.5z"/><path d="M2026.3 379.8l12.4 16.5-12.4 16.5-12.4-16.5z"/><path d="M2027.2 372.5l12.4 16.5-12.4 16.5-12.4-16.5z"/><path d="M2032.2 378.5l12.4 16.5-12.4 16.5-12.4-16.5z"/><path d="M2027.9 381.5l12.4 16.5-12.4 16.5-12.4-16.5z"/><path d="M2026.5 384.4l12.4 16.5-12.4 16.5-12.4-16.5z"/><path d="M2030.9 388.6l12.4 16.5-12.4 16.5-12.4-16.5z"/><path d="M2030.9 396.4l12.4 16.5-12.4 16.5-12.4-16.5z"/><path d="M2027.8 397.4l12.4 16.5-12.4 16.5-12.4-16.5z"/><path d="M2035.2 401.5l12.4 16.5-12.4 16.5-12.4-16.5z"/><path d="M2033.7 402.6l12.4 16.5-12.4 16.5-12.4-16.5z"/><path d="M2030.7 402.3l12.4 16.5-12.4 16.5-12.4-16.5z"/><path d="M2033.1 403.5l12.4 16.5-12.4 16.5-12.4-16.5z"/><path d="M2033.3 404.8l12.4 16.5-12.4 16.5-12.4-16.5z"/><path d="M2037.2 409.9l12.4 16.5-12.4 16.5-12.4-16.5z"/><path d="M2028.5 407.4l12.4 16.5-12.4 16.5-12.4-16.5z"/><path d="M2036.0 422.5l12.4 16.5-12.4 16.5-12.4-16.5z"/><path d="M2037.7 420.3l12.4 16.5-12.4 16.5-12.4-16.5z"/><path d="M2034.7 422.7l12.4 16.5-12.4 16.5-12.4-16.5z"/><path d="M2041.9 429.5l12.4 16.5-12.4 16.5-12.4-16.5z"/><path d="M2042.8 427.3l12.4 16.5-12.4 16.5-12.4-16.5z"/><path d="M2039.4 427.6l12.4 16.5-12.4 16.5-12.4-16.5z"/><path d="M2036.9 434.8l12.4 16.5-12.4 16.5-12.4-16.5z"/><path d="M2038.9 438.3l12.4 16.5-12.4 16.5-12.4-16.5z"/><path d="M2036.7 438.9l12.4 16.5-12.4 16.5-12.4-16.5z"/><path d="M2038.9 437.7l12.4 16.5-12.4 16.5-12.4-16.5z"/><path d="M2044.4 444.4l12.4 16.5-12.4 16.5-12.4-16.5z"/><path d="M2041.9 449.6l12.4 16.5-12.4 16.5-12.4-16.5z"/><path d="M2051.1 455.7l12.4 16.5-12.4 16.5-12.4-16.5z"/><path d="M2048.4 457.0l12.4 16.5-12.4 16.5-12.4-16.5z"/><path d="M2051.3 452.4l12.4 16.5-12.4 16.5-12.4-16.5z"/><path d="M2048.9 458.2l12.4 16.5-12.4 16.5-12.4-16.5z"/><path d="M2047.3 462.1l12.4 16.5-12.4 16.5-12.4-16.5z"/><path d="M2054.0 460.7l12.4 16.5-12.4 16.5-12.4-16.5z"/><path d="M2050.6 468.4l12.4 16.5-12.4 16.5-12.4-16.5z"/><path d="M2055.3 470.4l12.4 16.5-12.4 16.5-12.4-16.5z"/><path d="M2053.5 471.6l12.4 16.5-12.4 16.5-12.4-16.5z"/><path d="M2055.1 478.8l12.4 16.5-12.4 16.5-12.4-16.5z"/><path d="M2056.7 477.1l12.4 16.5-12.4 16.5-12.4-16.5z"/><path d="M2057.9 477.1l12.4 16.5-12.4 16.5-12.4-16.5z"/><path d="M2062.0 490.2l12.4 16.5-12.4 16.5-12.4-16.5z"/><path d="M2061.0 486.2l12.4 16.5-12.4 16.5-12.4-16.5z"/><path d="M2066.0 493.1l12.4 16.5-12.4 16.5-12.4-16.5z"/><path d="M2067.6 496.5l12.4 16.5-12.4 16.5-12.4-16.5z"/><path d="M2065.0 491.4l12.4 16.5-12.4 16.5-12.4-16.5z"/><path d="M2067.1 495.5l12.4 16.5-12.4 16.5-12.4-16.5z"/><path d="M2090.9 350.9l12.4 16.5-12.4 16.5-12.4-16.5z"/><path d="M2096.9 351.0l12.4 16.5-12.4 16.5-12.4-16.5z"/><path d="M2091.7 350.8l12.4 16.5-12.4 16.5-12.4-16.5z"/><path d="M2100.9 361.1l12.4 16.5-12.4 16.5-12.4-16.5z"/><path d="M2094.3 355.0l12.4 16.5-12.4 16.5-12.4-16.5z"/><path d="M2100.0 354.9l12.4 16.5-12.4 16.5-12.4-16.5z"/><path d="M2104.9 362.3l12.4 16.5-12.4 16.5-12.4-16.5z"/><path d="M2104.4 360.6l12.4 16.5-12.4 16.5-12.4-16.5z"/><path d="M2094.2 364.7l12.4 16.5-12.4 16.5-12.4-16.5z"/><path d="M2100.1 370.7l12.4 16.5-12.4 16.5-12.4-16.5z"/><path d="M2094.6 362.2l12.4 16.5-12.4 16.5-12.4-16.5z"/><path d="M2108.5 369.4l12.4 16.5-12.4 16.5-12.4-16.5z"/><path d="M2098.6 372.3l12.4 16.5-12.4 16.5-12.4-16.5z"/><path d="M2095.7 372.1l12.4 16.5-12.4 16.5-12.4-16.5z"/><path d="M2106.8 372.3l12.4 16.5-12.4 16.5-12.4-16.5z"/><path d="M2098.7 374.3l12.4 16.5-12.4 16.5-12.4-16.5z"/><path d="M2098.9 378.1l12.4 16.5-12.4 16.5-12.4-16.5z"/><path d="M2098.3 376.2l12.4 16.5-12.4 16.5-12.4-16.5z"/><path d="M2112.0 386.9l12.4 16.5-12.4 16.5-12.4-16.5z"/><path d="M2098.0 381.7l12.4 16.5-12.4 16.5-12.4-16.5z"/><path d="M2103.0 385.0l12.4 16.5-12.4 16.5-12.4-16.5z"/><path d="M2105.1 390.1l12.4 16.5-12.4 16.5-12.4-16.5z"/><path d="M2098.2 397.1l12.4 16.5-12.4 16.5-12.4-16.5z"/><path d="M2097.5 391.0l12.4 16.5-12.4 16.5-12.4-16.5z"/><path d="M2097.4 402.3l12.4 16.5-12.4 16.5-12.4-16.5z"/><path d="M2101.3 402.6l12.4 16.5-12.4 16.5-12.4-16.5z"/><path d="M2112.8 404.9l12.4 16.5-12.4 16.5-12.4-16.5z"/><path d="M2115.3 405.7l12.4 16.5-12.4 16.5-12.4-16.5z"/><path d="M2113.6 404.7l12.4 16.5-12.4 16.5-12.4-16.5z"/><path d="M2112.2 401.4l12.4 16.5-12.4 16.5-12.4-16.5z"/><path d="M2109.2 420.6l12.4 16.5-12.4 16.5-12.4-16.5z"/><path d="M2112.2 410.6l12.4 16.5-12.4 16.5-12.4-16.5z"/><path d="M2105.4 412.5l12.4 16.5-12.4 16.5-12.4-16.5z"/><path d="M2110.4 418.9l12.4 16.5-12.4 16.5-12.4-16.5z"/><path d="M2102.8 414.7l12.4 16.5-12.4 16.5-12.4-16.5z"/><path d="M2112.6 412.6l12.4 16.5-12.4 16.5-12.4-16.5z"/><path d="M2111.8 426.1l12.4 16.5-12.4 16.5-12.4-16.5z"/><path d="M2103.5 425.2l12.4 16.5-12.4 16.5-12.4-16.5z"/><path d="M2111.6 427.3l12.4 16.5-12.4 16.5-12.4-16.5z"/><path d="M2115.1 438.6l12.4 16.5-12.4 16.5-12.4-16.5z"/><path d="M2118.2 434.0l12.4 16.5-12.4 16.5-12.4-16.5z"/><path d="M2119.9 437.0l12.4 16.5-12.4 16.5-12.4-16.5z"/><path d="M2109.2 446.2l12.4 16.5-12.4 16.5-12.4-16.5z"/><path d="M2120.9 442.4l12.4 16.5-12.4 16.5-12.4-16.5z"/><path d="M2121.3 438.4l12.4 16.5-12.4 16.5-12.4-16.5z"/><path d="M2123.1 450.9l12.4 16.5-12.4 16.5-12.4-16.5z"/><path d="M2112.2 451.5l12.4 16.5-12.4 16.5-12.4-16.5z"/><path d="M2119.8 448.8l12.4 16.5-12.4 16.5-12.4-16.5z"/><path d="M2115.6 460.7l12.4 16.5-12.4 16.5-12.4-16.5z"/><path d="M2120.7 458.0l12.4 16.5-12.4 16.5-12.4-16.5z"/><path d="M2114.9 458.9l12.4 16.5-12.4 16.5-12.4-16.5z"/><path d="M2120.1 459.6l12.4 16.5-12.4 16.5-12.4-16.5z"/><path d="M2121.5 464.8l12.4 16.5-12.4 16.5-12.4-16.5z"/><path d="M2126.8 464.5l12.4 16.5-12.4 16.5-12.4-16.5z"/><path d="M2129.6 472.2l12.4 16.5-12.4 16.5-12.4-16.5z"/><path d="M2115.7 471.3l12.4 16.5-12.4 16.5-12.4-16.5z"/><path d="M2122.3 479.7l12.4 16.5-12.4 16.5-12.4-16.5z"/><path d="M2132.0 480.0l12.4 16.5-12.4 16.5-12.4-16.5z"/><path d="M2114.0 477.4l12.4 16.5-12.4 16.5-12.4-16.5z"/><path d="M2122.7 483.5l12.4 16.5-12.4 16.5-12.4-16.5z"/><path d="M2115.4 487.3l12.4 16.5-12.4 16.5-12.4-16.5z"/><path d="M2127.8 486.8l12.4 16.5-12.4 16.5-12.4-16.5z"/><path d="M2116.9 489.5l12.4 16.5-12.4 16.5-12.4-16.5z"/><path d="M2128.1 493.8l12.4 16.5-12.4 16.5-12.4-16.5z"/><path d="M2128.8 503.5l12.4 16.5-12.4 16.5-12.4-16.5z"/><path d="M2133.5 493.0l12.4 16.5-12.4 16.5-12.4-16.5z"/><path d="M2131.3 504.2l12.4 16.5-12.4 16.5-12.4-16.5z"/><path d="M2136.6 506.6l12.4 16.5-12.4 16.5-12.4-16.5z"/><path d="M2125.3 504.6l12.4 16.5-12.4 16.5-12.4-16.5z"/><path d="M2129.1 509.3l12.4 16.5-12.4 16.5-12.4-16.5z"/><path d="M2126.9 504.5l12.4 16.5-12.4 16.5-12.4-16.5z"/><path d="M2138.5 513.2l12.4 16.5-12.4 16.5-12.4-16.5z"/><path d="M2141.2 527.9l12.4 16.5-12.4 16.5-12.4-16.5z"/><path d="M2144.0 518.7l12.4 16.5-12.4 16.5-12.4-16.5z"/><path d="M2135.4 520.8l12.4 16.5-12.4 16.5-12.4-16.5z"/><path d="M2137.7 527.9l12.4 16.5-12.4 16.5-12.4-16.5z"/><path d="M2147.1 529.5l12.4 16.5-12.4 16.5-12.4-16.5z"/><path d="M2145.7 527.6l12.4 16.5-12.4 16.5-12.4-16.5z"/><path d="M2148.4 534.3l12.4 16.5-12.4 16.5-12.4-16.5z"/><path d="M2143.5 528.0l12.4 16.5-12.4 16.5-12.4-16.5z"/><path d="M2145.8 535.5l12.4 16.5-12.4 16.5-12.4-16.5z"/><path d="M2145.1 546.4l12.4 16.5-12.4 16.5-12.4-16.5z"/><path d="M2141.3 545.3l12.4 16.5-12.4 16.5-12.4-16.5z"/><path d="M2142.2 549.5l12.4 16.5-12.4 16.5-12.4-16.5z"/><path d="M2150.6 555.9l12.4 16.5-12.4 16.5-12.4-16.5z"/><path d="M2150.3 551.5l12.4 16.5-12.4 16.5-12.4-16.5z"/><path d="M2149.4 549.5l12.4 16.5-12.4 16.5-12.4-16.5z"/><path d="M2162.7 563.2l12.4 16.5-12.4 16.5-12.4-16.5z"/><path d="M2162.6 563.3l12.4 16.5-12.4 16.5-12.4-16.5z"/><path d="M2154.1 564.0l12.4 16.5-12.4 16.5-12.4-16.5z"/><path d="M2155.4 573.7l12.4 16.5-12.4 16.5-12.4-16.5z"/><path d="M2149.9 567.6l12.4 16.5-12.4 16.5-12.4-16.5z"/><path d="M2156.5 576.6l12.4 16.5-12.4 16.5-12.4-16.5z"/><path d="M2168.5 576.1l12.4 16.5-12.4 16.5-12.4-16.5z"/><path d="M2165.4 578.5l12.4 16.5-12.4 16.5-12.4-16.5z"/><path d="M2161.1 577.4l12.4 16.5-12.4 16.5-12.4-16.5z"/><path d="M2162.3 586.0l12.4 16.5-12.4 16.5-12.4-16.5z"/><path d="M2170.2 590.8l12.4 16.5-12.4 16.5-12.4-16.5z"/><path d="M2167.8 583.3l12.4 16.5-12.4 16.5-12.4-16.5z"/><path d="M2163.6 597.9l12.4 16.5-12.4 16.5-12.4-16.5z"/><path d="M2167.6 598.1l12.4 16.5-12.4 16.5-12.4-16.5z"/><path d="M2175.6 598.7l12.4 16.5-12.4 16.5-12.4-16.5z"/><path d="M2166.6 607.7l12.4 16.5-12.4 16.5-12.4-16.5z"/><path d="M2182.2 610.5l12.4 16.5-12.4 16.5-12.4-16.5z"/><path d="M2172.6 611.2l12.4 16.5-12.4 16.5-12.4-16.5z"/><path d="M2182.1 620.6l12.4 16.5-12.4 16.5-12.4-16.5z"/><path d="M2177.4 616.2l12.4 16.5-12.4 16.5-12.4-16.5z"/><path d="M2186.5 614.5l12.4 16.5-12.4 16.5-12.4-16.5z"/><path d="M2189.5 613.9l12.4 16.5-12.4 16.5-12.4-16.5z"/><path d="M2190.9 625.5l12.4 16.5-12.4 16.5-12.4-16.5z"/><path d="M2187.8 618.5l12.4 16.5-12.4 16.5-12.4-16.5z"/><path d="M2186.6 626.4l12.4 16.5-12.4 16.5-12.4-16.5z"/><path d="M2193.1 632.4l12.4 16.5-12.4 16.5-12.4-16.5z"/><path d="M2195.9 628.8l12.4 16.5-12.4 16.5-12.4-16.5z"/><path d="M2198.5 632.0l12.4 16.5-12.4 16.5-12.4-16.5z"/><path d="M2192.0 631.9l12.4 16.5-12.4 16.5-12.4-16.5z"/><path d="M2200.4 637.5l12.4 16.5-12.4 16.5-12.4-16.5z"/><path d="M2203.9 646.2l12.4 16.5-12.4 16.5-12.4-16.5z"/><path d="M2206.5 646.8l12.4 16.5-12.4 16.5-12.4-16.5z"/><path d="M2208.3 649.6l12.4 16.5-12.4 16.5-12.4-16.5z"/><path d="M2210.4 650.4l12.4 16.5-12.4 16.5-12.4-16.5z"/><path d="M2210.5 651.6l12.4 16.5-12.4 16.5-12.4-16.5z"/><path d="M2219.3 655.8l12.4 16.5-12.4 16.5-12.4-16.5z"/><path d="M2229.4 665.0l12.4 16.5-12.4 16.5-12.4-16.5z"/><path d="M2226.9 663.7l12.4 16.5-12.4 16.5-12.4-16.5z"/><path d="M2228.2 665.0l12.4 16.5-12.4 16.5-12.4-16.5z"/><path d="M2284.6 554.5l12.4 16.5-12.4 16.5-12.4-16.5z"/><path d="M2285.3 551.9l12.4 16.5-12.4 16.5-12.4-16.5z"/><path d="M2284.4 552.4l12.4 16.5-12.4 16.5-12.4-16.5z"/><path d="M2288.9 560.4l12.4 16.5-12.4 16.5-12.4-16.5z"/><path d="M2283.8 551.9l12.4 16.5-12.4 16.5-12.4-16.5z"/><path d="M2290.7 556.6l12.4 16.5-12.4 16.5-12.4-16.5z"/><path d="M2288.3 560.6l12.4 16.5-12.4 16.5-12.4-16.5z"/><path d="M2290.8 570.3l12.4 16.5-12.4 16.5-12.4-16.5z"/><path d="M2287.7 559.6l12.4 16.5-12.4 16.5-12.4-16.5z"/><path d="M2291.4 562.5l12.4 16.5-12.4 16.5-12.4-16.5z"/><path d="M2299.8 570.6l12.4 16.5-12.4 16.5-12.4-16.5z"/><path d="M2291.1 569.7l12.4 16.5-12.4 16.5-12.4-16.5z"/><path d="M2305.2 568.9l12.4 16.5-12.4 16.5-12.4-16.5z"/><path d="M2293.4 572.9l12.4 16.5-12.4 16.5-12.4-16.5z"/><path d="M2308.4 570.4l12.4 16.5-12.4 16.5-12.4-16.5z"/><path d="M2308.5 574.1l12.4 16.5-12.4 16.5-12.4-16.5z"/><path d="M2307.8 576.1l12.4 16.5-12.4 16.5-12.4-16.5z"/><path d="M2301.2 580.1l12.4 16.5-12.4 16.5-12.4-16.5z"/><path d="M2298.6 582.6l12.4 16.5-12.4 16.5-12.4-16.5z"/><path d="M2297.8 587.6l12.4 16.5-12.4 16.5-12.4-16.5z"/><path d="M2312.6 587.6l12.4 16.5-12.4 16.5-12.4-16.5z"/><path d="M2304.4 592.8l12.4 16.5-12.4 16.5-12.4-16.5z"/><path d="M2294.4 598.3l12.4 16.5-12.4 16.5-12.4-16.5z"/><path d="M2300.0 592.2l12.4 16.5-12.4 16.5-12.4-16.5z"/><path d="M2305.6 600.1l12.4 16.5-12.4 16.5-12.4-16.5z"/><path d="M2311.2 601.0l12.4 16.5-12.4 16.5-12.4-16.5z"/><path d="M2298.7 599.2l12.4 16.5-12.4 16.5-12.4-16.5z"/><path d="M2297.5 602.6l12.4 16.5-12.4 16.5-12.4-16.5z"/><path d="M2301.1 600.0l12.4 16.5-12.4 16.5-12.4-16.5z"/><path d="M2311.7 607.0l12.4 16.5-12.4 16.5-12.4-16.5z"/><path d="M2295.9 604.6l12.4 16.5-12.4 16.5-12.4-16.5z"/><path d="M2308.2 605.0l12.4 16.5-12.4 16.5-12.4-16.5z"/><path d="M2316.2 612.8l12.4 16.5-12.4 16.5-12.4-16.5z"/><path d="M2312.2 615.9l12.4 16.5-12.4 16.5-12.4-16.5z"/><path d="M2302.1 615.3l12.4 16.5-12.4 16.5-12.4-16.5z"/><path d="M2317.9 616.8l12.4 16.5-12.4 16.5-12.4-16.5z"/><path d="M2314.0 632.4l12.4 16.5-12.4 16.5-12.4-16.5z"/><path d="M2308.4 627.8l12.4 16.5-12.4 16.5-12.4-16.5z"/><path d="M2317.9 626.7l12.4 16.5-12.4 16.5-12.4-16.5z"/><path d="M2308.4 631.0l12.4 16.5-12.4 16.5-12.4-16.5z"/><path d="M2319.9 634.1l12.4 16.5-12.4 16.5-12.4-16.5z"/><path d="M2315.5 633.0l12.4 16.5-12.4 16.5-12.4-16.5z"/><path d="M2313.1 638.9l12.4 16.5-12.4 16.5-12.4-16.5z"/><path d="M2312.9 637.4l12.4 16.5-12.4 16.5-12.4-16.5z"/><path d="M2329.5 640.4l12.4 16.5-12.4 16.5-12.4-16.5z"/><path d="M2312.9 650.7l12.4 16.5-12.4 16.5-12.4-16.5z"/><path d="M2331.8 648.0l12.4 16.5-12.4 16.5-12.4-16.5z"/><path d="M2312.5 646.7l12.4 16.5-12.4 16.5-12.4-16.5z"/><path d="M2312.1 649.2l12.4 16.5-12.4 16.5-12.4-16.5z"/><path d="M2319.6 652.9l12.4 16.5-12.4 16.5-12.4-16.5z"/><path d="M2334.3 655.2l12.4 16.5-12.4 16.5-12.4-16.5z"/><path d="M2336.8 657.8l12.4 16.5-12.4 16.5-12.4-16.5z"/><path d="M2324.3 659.8l12.4 16.5-12.4 16.5-12.4-16.5z"/><path d="M2327.2 655.4l12.4 16.5-12.4 16.5-12.4-16.5z"/><path d="M2339.3 662.9l12.4 16.5-12.4 16.5-12.4-16.5z"/><path d="M2326.3 667.3l12.4 16.5-12.4 16.5-12.4-16.5z"/><path d="M2321.7 663.4l12.4 16.5-12.4 16.5-12.4-16.5z"/><path d="M2328.3 674.0l12.4 16.5-12.4 16.5-12.4-16.5z"/><path d="M2338.8 680.8l12.4 16.5-12.4 16.5-12.4-16.5z"/><path d="M2331.5 678.7l12.4 16.5-12.4 16.5-12.4-16.5z"/><path d="M2343.7 684.8l12.4 16.5-12.4 16.5-12.4-16.5z"/><path d="M2330.6 678.3l12.4 16.5-12.4 16.5-12.4-16.5z"/><path d="M2339.6 678.2l12.4 16.5-12.4 16.5-12.4-16.5z"/><path d="M2352.3 694.5l12.4 16.5-12.4 16.5-12.4-16.5z"/><path d="M2338.6 691.5l12.4 16.5-12.4 16.5-12.4-16.5z"/><path d="M2342.8 694.7l12.4 16.5-12.4 16.5-12.4-16.5z"/><path d="M2357.7 703.1l12.4 16.5-12.4 16.5-12.4-16.5z"/><path d="M2353.5 699.7l12.4 16.5-12.4 16.5-12.4-16.5z"/><path d="M2337.3 698.5l12.4 16.5-12.4 16.5-12.4-16.5z"/><path d="M2345.4 701.9l12.4 16.5-12.4 16.5-12.4-16.5z"/><path d="M2350.1 709.2l12.4 16.5-12.4 16.5-12.4-16.5z"/><path d="M2348.8 709.1l12.4 16.5-12.4 16.5-12.4-16.5z"/><path d="M2365.0 716.8l12.4 16.5-12.4 16.5-12.4-16.5z"/><path d="M2364.3 713.8l12.4 16.5-12.4 16.5-12.4-16.5z"/><path d="M2347.4 714.5l12.4 16.5-12.4 16.5-12.4-16.5z"/><path d="M2361.5 722.0l12.4 16.5-12.4 16.5-12.4-16.5z"/><path d="M2373.0 726.7l12.4 16.5-12.4 16.5-12.4-16.5z"/><path d="M2354.7 721.3l12.4 16.5-12.4 16.5-12.4-16.5z"/><path d="M2365.7 733.4l12.4 16.5-12.4 16.5-12.4-16.5z"/><path d="M2370.9 731.4l12.4 16.5-12.4 16.5-12.4-16.5z"/><path d="M2371.2 732.3l12.4 16.5-12.4 16.5-12.4-16.5z"/><path d="M2365.0 736.0l12.4 16.5-12.4 16.5-12.4-16.5z"/><path d="M2367.9 740.2l12.4 16.5-12.4 16.5-12.4-16.5z"/><path d="M2377.4 735.9l12.4 16.5-12.4 16.5-12.4-16.5z"/><path d="M2383.9 750.7l12.4 16.5-12.4 16.5-12.4-16.5z"/><path d="M2382.1 751.4l12.4 16.5-12.4 16.5-12.4-16.5z"/><path d="M2383.9 749.0l12.4 16.5-12.4 16.5-12.4-16.5z"/><path d="M2389.4 756.9l12.4 16.5-12.4 16.5-12.4-16.5z"/><path d="M2372.2 749.5l12.4 16.5-12.4 16.5-12.4-16.5z"/><path d="M2374.6 751.8l12.4 16.5-12.4 16.5-12.4-16.5z"/><path d="M2399.7 764.8l12.4 16.5-12.4 16.5-12.4-16.5z"/><path d="M2402.3 766.1l12.4 16.5-12.4 16.5-12.4-16.5z"/><path d="M2389.4 757.1l12.4 16.5-12.4 16.5-12.4-16.5z"/><path d="M2403.2 769.3l12.4 16.5-12.4 16.5-12.4-16.5z"/><path d="M2397.7 767.0l12.4 16.5-12.4 16.5-12.4-16.5z"/><path d="M2392.3 769.5l12.4 16.5-12.4 16.5-12.4-16.5z"/><path d="M2404.8 773.8l12.4 16.5-12.4 16.5-12.4-16.5z"/><path d="M2399.4 775.4l12.4 16.5-12.4 16.5-12.4-16.5z"/><path d="M2398.7 773.0l12.4 16.5-12.4 16.5-12.4-16.5z"/><path d="M2410.1 776.7l12.4 16.5-12.4 16.5-12.4-16.5z"/><path d="M2397.1 775.0l12.4 16.5-12.4 16.5-12.4-16.5z"/><path d="M2416.4 789.6l12.4 16.5-12.4 16.5-12.4-16.5z"/><path d="M2414.0 787.2l12.4 16.5-12.4 16.5-12.4-16.5z"/><path d="M2409.1 788.6l12.4 16.5-12.4 16.5-12.4-16.5z"/><path d="M2412.4 793.9l12.4 16.5-12.4 16.5-12.4-16.5z"/><path d="M2416.3 791.4l12.4 16.5-12.4 16.5-12.4-16.5z"/><path d="M2424.2 801.4l12.4 16.5-12.4 16.5-12.4-16.5z"/><path d="M2417.8 799.6l12.4 16.5-12.4 16.5-12.4-16.5z"/><path d="M2422.7 802.9l12.4 16.5-12.4 16.5-12.4-16.5z"/><path d="M2428.1 807.6l12.4 16.5-12.4 16.5-12.4-16.5z"/><path d="M2429.6 805.7l12.4 16.5-12.4 16.5-12.4-16.5z"/><path d="M2440.6 822.1l12.4 16.5-12.4 16.5-12.4-16.5z"/><path d="M2435.6 819.7l12.4 16.5-12.4 16.5-12.4-16.5z"/><path d="M2435.8 816.3l12.4 16.5-12.4 16.5-12.4-16.5z"/><path d="M2444.5 827.5l12.4 16.5-12.4 16.5-12.4-16.5z"/><path d="M2444.0 825.7l12.4 16.5-12.4 16.5-12.4-16.5z"/><path d="M2449.1 831.7l12.4 16.5-12.4 16.5-12.4-16.5z"/><path d="M2455.1 834.6l12.4 16.5-12.4 16.5-12.4-16.5z"/><path d="M2456.3 835.9l12.4 16.5-12.4 16.5-12.4-16.5z"/><path d="M2462.9 841.3l12.4 16.5-12.4 16.5-12.4-16.5z"/><path d="M2465.6 844.3l12.4 16.5-12.4 16.5-12.4-16.5z"/><path d="M2460.7 840.4l12.4 16.5-12.4 16.5-12.4-16.5z"/><path d="M2453.1 834.3l12.4 16.5-12.4 16.5-12.4-16.5z"/><path d="M2456.8 837.6l12.4 16.5-12.4 16.5-12.4-16.5z"/><path d="M2480.1 853.0l12.4 16.5-12.4 16.5-12.4-16.5z"/><path d="M2478.7 851.8l12.4 16.5-12.4 16.5-12.4-16.5z"/><path d="M2485.0 856.6l12.4 16.5-12.4 16.5-12.4-16.5z"/><path d="M2487.1 857.0l12.4 16.5-12.4 16.5-12.4-16.5z"/><path d="M2485.6 857.4l12.4 16.5-12.4 16.5-12.4-16.5z"/><path d="M2503.6 868.5l12.4 16.5-12.4 16.5-12.4-16.5z"/><path d="M2506.0 868.8l12.4 16.5-12.4 16.5-12.4-16.5z"/><path d="M1995.3 172.5l12.4 16.5-12.4 16.5-12.4-16.5z"/><path d="M2045.0 334.2l12.4 16.5-12.4 16.5-12.4-16.5z"/><path d="M2038.0 339.5l12.4 16.5-12.4 16.5-12.4-16.5z"/><path d="M2506.5 869.6l12.4 16.5-12.4 16.5-12.4-16.5z"/>
</g>
<text transform="translate(214.8 241.4) scale(0.97 1)" font-size="60" text-anchor="end">0.3</text>
<text transform="translate(214.8 331.8) scale(0.97 1)" font-size="60" text-anchor="end">0.2</text>
<text transform="translate(214.8 486.4) scale(0.97 1)" font-size="60" text-anchor="end">0.1</text>
<text transform="translate(214.8 640.9) scale(0.97 1)" font-size="60" text-anchor="end">0.05</text>
<text transform="translate(214.8 754.8) scale(0.97 1)" font-size="60" text-anchor="end">0.03</text>
<text transform="translate(214.8 845.2) scale(0.97 1)" font-size="60" text-anchor="end">0.02</text>
<text transform="translate(1627.8 241.4) scale(0.97 1)" font-size="60" text-anchor="end">0.3</text>
<text transform="translate(1627.8 331.8) scale(0.97 1)" font-size="60" text-anchor="end">0.2</text>
<text transform="translate(1627.8 486.4) scale(0.97 1)" font-size="60" text-anchor="end">0.1</text>
<text transform="translate(1627.8 640.9) scale(0.97 1)" font-size="60" text-anchor="end">0.05</text>
<text transform="translate(1627.8 754.8) scale(0.97 1)" font-size="60" text-anchor="end">0.03</text>
<text transform="translate(1627.8 845.2) scale(0.97 1)" font-size="60" text-anchor="end">0.02</text>
<text transform="translate(266.1 1024) scale(1.106 1)" font-size="60">300</text>
<text transform="translate(476.5 1024) scale(1.106 1)" font-size="60">1<tspan dx="11.5">000</tspan></text>
<text transform="translate(689.4 1024) scale(1.106 1)" font-size="60">3<tspan dx="11.5">000</tspan></text>
<text transform="translate(906.2 1024) scale(1.106 1)" font-size="60">10<tspan dx="11.5">000</tspan></text>
<text transform="translate(1119.1 1024) scale(1.106 1)" font-size="60">30<tspan dx="11.5">000</tspan></text>
<text transform="translate(1335.9 1024) scale(1.106 1)" font-size="60">100<tspan dx="11.5">000</tspan></text>
<text transform="translate(1701.8 1024) scale(1.106 1)" font-size="60">0<tspan dx="1.5">.</tspan><tspan dx="1.5">03</tspan></text>
<text transform="translate(1919.8 1024) scale(1.106 1)" font-size="60">0<tspan dx="1.5">.</tspan><tspan dx="1.5">1</tspan></text>
<text transform="translate(2103.7 1024) scale(1.106 1)" font-size="60">0<tspan dx="1.5">.</tspan><tspan dx="1.5">3</tspan></text>
<text transform="translate(2305.1 1024) scale(1.106 1)" font-size="60">1<tspan dx="1.5">.</tspan><tspan dx="1.5">0</tspan></text>
<text transform="translate(2489.0 1024) scale(1.106 1)" font-size="60">3<tspan dx="1.5">.</tspan><tspan dx="1.5">0</tspan></text>
<text transform="translate(2673.8 1024) scale(1.106 1)" font-size="60">10<tspan dx="1.5">.</tspan><tspan dx="1.5">0</tspan></text>
<text x="886.6" y="1131.5" font-size="75" text-anchor="middle">Number of Elements</text>
<text x="2299.9" y="1131.5" font-size="75" text-anchor="middle">Runtime [s]</text>
<text transform="translate(57.0 516.4) rotate(-90)" font-size="75" letter-spacing="0.25" text-anchor="middle">Err. Indicator Norm</text>
<path d="M1116.3 21L1128.7 37.5L1116.3 54L1103.9 37.5Z" fill="#eda00a"/>
<text x="1182" y="56.3" font-size="75" font-style="italic">AMBER</text>
<path d="M1496.4 21.3l14.3 24.75h-28.6z" fill="#000"/>
<text x="1564.5" y="56.3" font-size="75">Expert</text>
</svg></body></html>
